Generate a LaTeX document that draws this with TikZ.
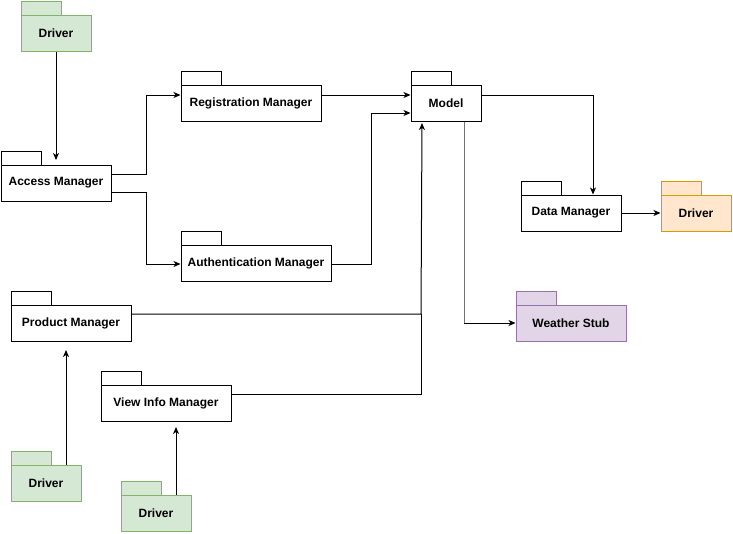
\documentclass[tikz,border=0pt]{standalone}
\usepackage{fontspec}
\setmainfont{Liberation Sans}
\usetikzlibrary{arrows.meta}
\definecolor{gfill}{HTML}{D5E8D4}\definecolor{gline}{HTML}{82B366}
\definecolor{ofill}{HTML}{FFE6CC}\definecolor{oline}{HTML}{D79B00}
\definecolor{pfill}{HTML}{E1D5E7}\definecolor{pline}{HTML}{9673A6}
\tikzset{
  pkgline/.style={draw=black, line width=1pt, fill=white},
  greenpkg/.style={draw=gline, fill=gfill},
  orangepkg/.style={draw=oline, fill=ofill},
  purplepkg/.style={draw=pline, fill=pfill},
  plainpkg/.style={},
  conn/.style={line width=1pt, -{Stealth[length=7pt,width=6pt,inset=2pt]}},
  link/.style={line width=1pt},
}
\newcommand{\pkgbox}[7]{%
  \draw[pkgline,#6] (#2-#4/2,#3-#5/2) rectangle ++(40,-14);
  \node[pkgline,#6, inner sep=0pt, minimum width=#4, minimum height=#5,
        font=\bfseries\fontsize{12}{14}\selectfont] (#1) at (#2,#3) {#7};}
\begin{document}
\begin{tikzpicture}[x=1pt,y=-1pt]
\useasboundingbox (0,0) rectangle (733,533);
\pkgbox{drv1}{56}{33}{70}{36}{greenpkg}{Driver}
\pkgbox{am}{56}{183}{110}{36}{plainpkg}{Access Manager}
\pkgbox{rm}{251}{103}{140}{36}{plainpkg}{Registration Manager}
\pkgbox{mo}{446}{103}{70}{36}{plainpkg}{Model}
\pkgbox{au}{256}{263}{150}{36}{plainpkg}{Authentication Manager}
\pkgbox{dm}{571}{213}{100}{36}{plainpkg}{Data Manager}
\pkgbox{drv2}{696}{213}{70}{36}{orangepkg}{Driver}
\pkgbox{ws}{571}{323}{110}{36}{purplepkg}{Weather Stub}
\pkgbox{pm}{71}{323}{120}{36}{plainpkg}{Product Manager}
\pkgbox{vi}{166}{403}{130}{36}{plainpkg}{View Info Manager}
\pkgbox{drv3}{46}{483}{70}{36}{greenpkg}{Driver}
\pkgbox{drv4}{156}{513}{70}{36}{greenpkg}{Driver}

\coordinate (amIn) at (56,160);
\draw[conn] (drv1.south) -- (amIn);
\draw[conn] (am.east |- 0,174) -- (146,174) |- (rm.west |- 0,95);
\draw[conn] (am.east |- 0,192) -- (146,192) |- (au.west |- 0,264);
\draw[conn] (rm.east |- 0,95) -- (mo.west |- 0,95);
\draw[conn] (au.east |- 0,264) -- (371,264) |- (mo.west |- 0,113);
\draw[conn] (mo.east |- 0,95) -| (dm.north -| 593,0);
\draw[conn] (dm.east) -- (drv2.west);
\coordinate (wsBend) at (464,323);
\draw[line width=1pt, draw=black!55] (mo.south -| 464,0) -- (wsBend);
\draw[conn] (wsBend) -- (ws.west);
\coordinate (pmIn) at (421,314);
\coordinate (moIn) at (422,123);
\draw[conn] (pm.east |- 0,314) -- (pmIn) -- (moIn);
\draw[link] (vi.east |- 0,394) -| (pmIn);
\coordinate (pmBelow) at (66,350);
\coordinate (viBelow) at (176,427);
\draw[conn] (drv3.north -| 66,0) -- (pmBelow);
\draw[conn] (drv4.north -| 176,0) -- (viBelow);
\end{tikzpicture}
\end{document}
